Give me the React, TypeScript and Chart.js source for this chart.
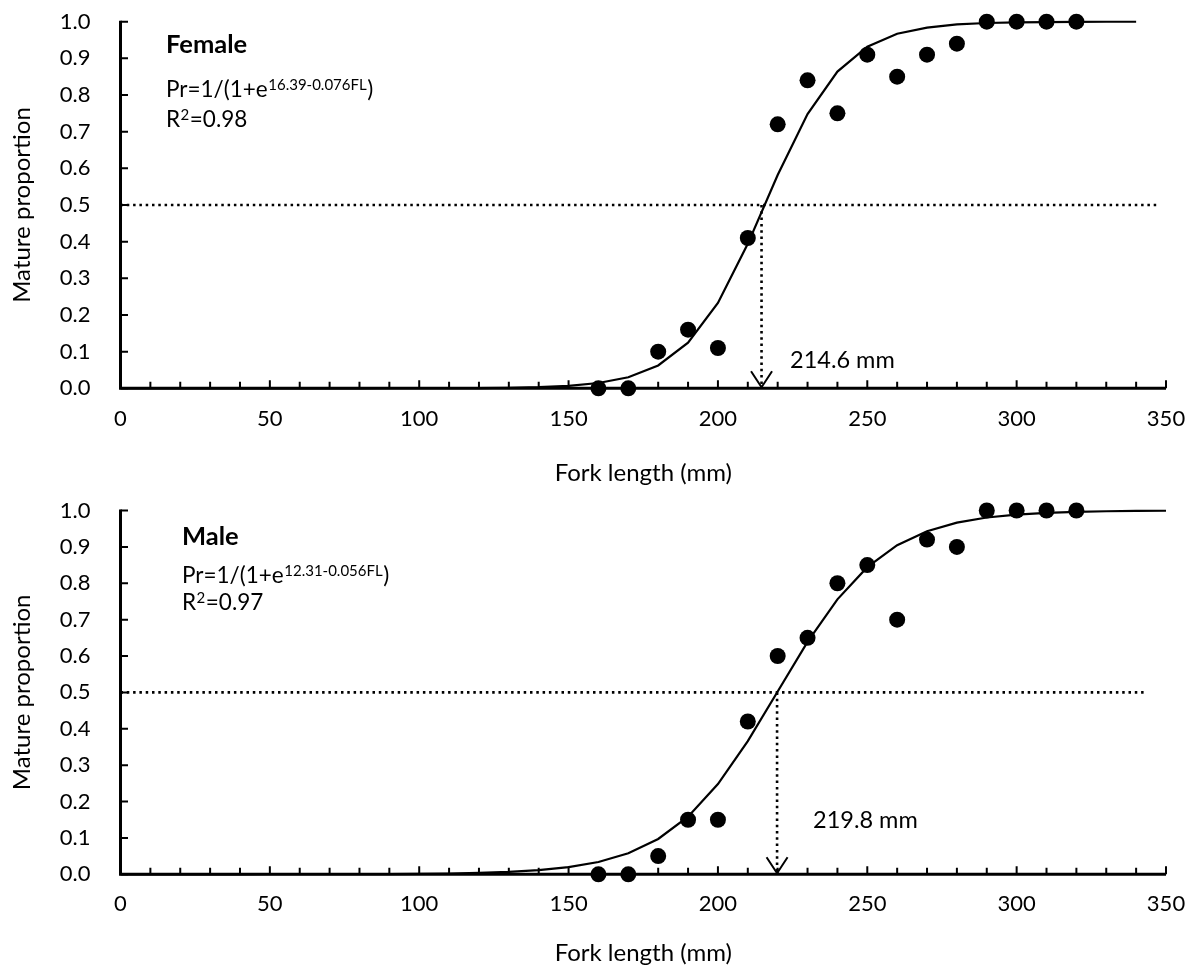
import React, { useEffect, useRef } from "react";
import { Chart, registerables } from "chart.js";

Chart.register(...registerables);

const FONT = "Lato, 'Open Sans', sans-serif";

// ---------- Data ----------
const xTickLabels = [0, 50, 100, 150, 200, 250, 300, 350];
const yTickLabels = ["0.0", "0.1", "0.2", "0.3", "0.4", "0.5", "0.6", "0.7", "0.8", "0.9", "1.0"];

// Female observed
const femaleLength = [160, 170, 180, 190, 200, 210, 220, 230, 240, 250, 260, 270, 280, 290, 300, 310, 320];
const femaleMature = [0, 0, 0.1, 0.16, 0.11, 0.41, 0.72, 0.84, 0.75, 0.91, 0.85, 0.91, 0.94, 1, 1, 1, 1];
// Female fitted curve
const femaleCurveLength = [0, 10, 20, 30, 40, 50, 60, 70, 80, 90, 100, 110, 120, 130, 140, 150, 160, 170, 180, 190, 200, 210, 220, 230, 240, 250, 260, 270, 280, 290, 300, 310, 320, 330, 340];
const femaleCurveFit = [0, 0, 0, 0, 0, 0, 0, 0, 0.00003, 0.00007, 0.00015, 0.0003, 0.0007, 0.0015, 0.0032, 0.0068, 0.0144, 0.0302, 0.0624, 0.1245, 0.233, 0.394, 0.582, 0.748, 0.864, 0.932, 0.967, 0.984, 0.9925, 0.9965, 0.998, 0.9991, 0.9996, 0.9998, 0.9999];
const femaleL50 = 214.6;
const femaleHalfLineEnd = 347;

// Male observed
const maleLength = [160, 170, 180, 190, 200, 210, 220, 230, 240, 250, 260, 270, 280, 290, 300, 310, 320];
const maleMature = [0, 0, 0.05, 0.15, 0.15, 0.42, 0.6, 0.65, 0.8, 0.85, 0.7, 0.92, 0.9, 1, 1, 1, 1];
// Male fitted curve
const maleCurveLength = [0, 10, 20, 30, 40, 50, 60, 70, 80, 90, 100, 110, 120, 130, 140, 150, 160, 170, 180, 190, 200, 210, 220, 230, 240, 250, 260, 270, 280, 290, 300, 310, 320, 330, 340, 350];
const maleCurveFit = [0, 0.00001, 0.00001, 0.00002, 0.00004, 0.00007, 0.00013, 0.00023, 0.0004, 0.0007, 0.0012, 0.0021, 0.0037, 0.0065, 0.0113, 0.0196, 0.0339, 0.0579, 0.0971, 0.1584, 0.2479, 0.3659, 0.5025, 0.6388, 0.7558, 0.8442, 0.9047, 0.9432, 0.9667, 0.9807, 0.9889, 0.9936, 0.9964, 0.9979, 0.9988, 0.9993];
const maleL50 = 219.8;
const maleHalfLineEnd = 343;

// ---------- Panel specs (text + layout) ----------
type Panel = {
  title: string;
  eqMain: string;
  eqSup: string;
  r2: string;
  l50: number;
  halfEnd: number;
  lengths: number[];
  mature: number[];
  curveX: number[];
  curveY: number[];
  canvasTop: number;
  canvasHeight: number;
  padTop: number;
  padBottom: number;
  xAxisHeight: number;
  tickPad: number;
  titlePos: [number, number];
  eqPos: [number, number];
  r2Pos: [number, number];
  labelPos: [number, number];
};

const panels: Panel[] = [
  {
    title: "Female",
    eqMain: "Pr=1/(1+e",
    eqSup: "16.39-0.076FL",
    r2: "=0.98",
    l50: femaleL50,
    halfEnd: femaleHalfLineEnd,
    lengths: femaleLength,
    mature: femaleMature,
    curveX: femaleCurveLength,
    curveY: femaleCurveFit,
    canvasTop: 0,
    canvasHeight: 490,
    padTop: 21.7,
    padBottom: 2.6,
    xAxisHeight: 99.1,
    tickPad: 17.5,
    titlePos: [166, 53],
    eqPos: [166, 97],
    r2Pos: [166, 127],
    labelPos: [790, 368],
  },
  {
    title: "Male",
    eqMain: "Pr=1/(1+e",
    eqSup: "12.31-0.056FL",
    r2: "=0.97",
    l50: maleL50,
    halfEnd: maleHalfLineEnd,
    lengths: maleLength,
    mature: maleMature,
    curveX: maleCurveLength,
    curveY: maleCurveFit,
    canvasTop: 490,
    canvasHeight: 479,
    padTop: 20.5,
    padBottom: 1.6,
    xAxisHeight: 93.1,
    tickPad: 16.5,
    titlePos: [182, 545 - 490],
    eqPos: [182, 582.7 - 490],
    r2Pos: [182, 610 - 490],
    labelPos: [813, 828 - 490],
  },
];

const panelPlugin = {
  id: "panelDecor",
  beforeDatasetsDraw(chart: any) {
    const { ctx, scales } = chart;
    const xs = scales.x;
    const ys = scales.y;
    const x0 = xs.getPixelForValue(0);
    const x1 = xs.getPixelForValue(350);
    const y0 = ys.getPixelForValue(0);
    const y1 = ys.getPixelForValue(1);
    ctx.save();
    ctx.strokeStyle = "#000";
    ctx.lineCap = "butt";
    ctx.lineJoin = "miter";
    ctx.lineWidth = 3;
    ctx.beginPath();
    ctx.moveTo(x0, y1 - 1);
    ctx.lineTo(x0, y0);
    ctx.lineTo(x1, y0);
    ctx.stroke();
    ctx.lineWidth = 2;
    ctx.beginPath();
    for (let i = 0; i < yTickLabels.length; i++) {
      const py = ys.getPixelForValue(Number(yTickLabels[i]));
      ctx.moveTo(x0, py);
      ctx.lineTo(x0 + 7.5, py);
    }
    for (let v = 10; v <= 350; v += 10) {
      const px = xs.getPixelForValue(v);
      const len = v % 50 === 0 ? 8 : 6.5;
      ctx.moveTo(px, y0);
      ctx.lineTo(px, y0 - len);
    }
    ctx.stroke();
    ctx.restore();
  },
  afterDatasetsDraw(chart: any) {
    const p: Panel = chart.options.plugins.panelDecor.panel;
    const { ctx, scales } = chart;
    const xs = scales.x;
    const ys = scales.y;
    ctx.save();
    // arrow head at L50
    const ax = xs.getPixelForValue(p.l50);
    const ay = ys.getPixelForValue(0) - 1;
    ctx.strokeStyle = "#000";
    ctx.lineWidth = 2;
    ctx.lineJoin = "miter";
    ctx.beginPath();
    ctx.moveTo(ax - 10.5, ay - 16);
    ctx.lineTo(ax, ay);
    ctx.lineTo(ax + 10.5, ay - 16);
    ctx.stroke();

    ctx.fillStyle = "#000";
    ctx.textBaseline = "alphabetic";
    ctx.textAlign = "left";
    // title
    ctx.font = `bold 25.5px ${FONT}`;
    ctx.fillText(p.title, p.titlePos[0], p.titlePos[1]);
    // equation
    ctx.font = `22.5px ${FONT}`;
    let x = p.eqPos[0];
    ctx.fillText(p.eqMain, x, p.eqPos[1]);
    x += ctx.measureText(p.eqMain).width;
    ctx.font = `15px ${FONT}`;
    ctx.fillText(p.eqSup, x + 0.5, p.eqPos[1] - 7);
    x += ctx.measureText(p.eqSup).width + 1;
    ctx.font = `22.5px ${FONT}`;
    ctx.fillText(")", x, p.eqPos[1]);
    // R2
    x = p.r2Pos[0];
    ctx.fillText("R", x, p.r2Pos[1]);
    x += ctx.measureText("R").width;
    ctx.font = `15px ${FONT}`;
    ctx.fillText("2", x + 0.5, p.r2Pos[1] - 7);
    x += ctx.measureText("2").width + 1;
    ctx.font = `22.5px ${FONT}`;
    ctx.fillText(p.r2, x, p.r2Pos[1]);
    // L50 label
    ctx.font = `23.5px ${FONT}`;
    ctx.fillText(`${p.l50.toFixed(1)} mm`, p.labelPos[0], p.labelPos[1]);
    ctx.restore();
  },
};

function makeConfig(p: Panel): any {
  const points = p.lengths.map((l, i) => ({ x: l, y: p.mature[i] }));
  const curve = p.curveX.map((l, i) => ({ x: l, y: p.curveY[i] }));
  const hLine = [
    { x: 0, y: 0.5 },
    { x: p.halfEnd, y: 0.5 },
  ];
  const vLine = [
    { x: p.l50, y: 0.5 },
    { x: p.l50, y: 0 },
  ];
  const tickFont = { family: FONT, size: 22 };
  const titleFont = { family: FONT, size: 24 };
  return {
    type: "scatter",
    data: {
      datasets: [
        {
          data: points,
          showLine: false,
          pointRadius: 8,
          pointBackgroundColor: "#000",
          pointBorderColor: "#000",
          pointBorderWidth: 0,
          clip: false,
        },
        {
          data: curve,
          showLine: true,
          pointRadius: 0,
          borderColor: "#000",
          borderWidth: 2.2,
          tension: 0,
          clip: false,
        },
        {
          data: hLine,
          showLine: true,
          pointRadius: 0,
          borderColor: "#000",
          borderWidth: 2.6,
          borderDash: [2.5, 3.8],
          borderCapStyle: "butt",
          clip: false,
        },
        {
          data: vLine,
          showLine: true,
          pointRadius: 0,
          borderColor: "#000",
          borderWidth: 2.6,
          borderDash: [2.5, 3.8],
          borderCapStyle: "butt",
          clip: false,
        },
      ],
    },
    options: {
      animation: false,
      responsive: false,
      maintainAspectRatio: false,
      devicePixelRatio: 1,
      events: [],
      layout: { padding: { top: p.padTop, bottom: p.padBottom, left: 0, right: 28 } },
      plugins: {
        legend: { display: false },
        tooltip: { enabled: false },
        panelDecor: { panel: p },
      },
      scales: {
        x: {
          type: "linear",
          min: 0,
          max: 350,
          afterBuildTicks: (s: any) => {
            s.ticks = xTickLabels.map((v) => ({ value: v }));
          },
          ticks: {
            font: tickFont,
            color: "#000",
            padding: p.tickPad,
            maxRotation: 0,
            callback: (v: any) => String(v),
          },
          grid: { display: false, drawTicks: false },
          border: { display: false },
          title: {
            display: true,
            text: "Fork length (mm)",
            font: titleFont,
            color: "#000",
            padding: { top: 0, bottom: 0 },
          },
          afterFit: (s: any) => {
            s.height = p.xAxisHeight;
            s.paddingLeft = 0;
            s.paddingRight = 0;
          },
        },
        y: {
          type: "linear",
          min: 0,
          max: 1,
          afterBuildTicks: (s: any) => {
            s.ticks = yTickLabels.map((t) => ({ value: Number(t) }));
          },
          ticks: {
            font: tickFont,
            color: "#000",
            padding: 30,
            callback: (v: any) => Number(v).toFixed(1),
          },
          grid: { display: false, drawTicks: false },
          border: { display: false },
          title: {
            display: true,
            text: "Mature proportion",
            font: titleFont,
            color: "#000",
            padding: { top: 7.6, bottom: 0 },
          },
          afterFit: (s: any) => {
            s.width = 120.5;
            s.paddingTop = 0;
            s.paddingBottom = 0;
          },
        },
      },
    },
    plugins: [panelPlugin],
  };
}

function PanelChart({ p }: { p: Panel }) {
  const ref = useRef<HTMLCanvasElement | null>(null);
  useEffect(() => {
    if (!ref.current) return;
    const chart = new Chart(ref.current, makeConfig(p));
    return () => chart.destroy();
  }, [p]);
  return (
    <canvas
      ref={ref}
      width={1194}
      height={p.canvasHeight}
      style={{ position: "absolute", left: 0, top: p.canvasTop, width: 1194, height: p.canvasHeight }}
    />
  );
}

export default function App() {
  return (
    <div style={{ position: "absolute", left: 0, top: 0, width: 1194, height: 969, background: "#fff" }}>
      {panels.map((p) => (
        <PanelChart key={p.title} p={p} />
      ))}
    </div>
  );
}
